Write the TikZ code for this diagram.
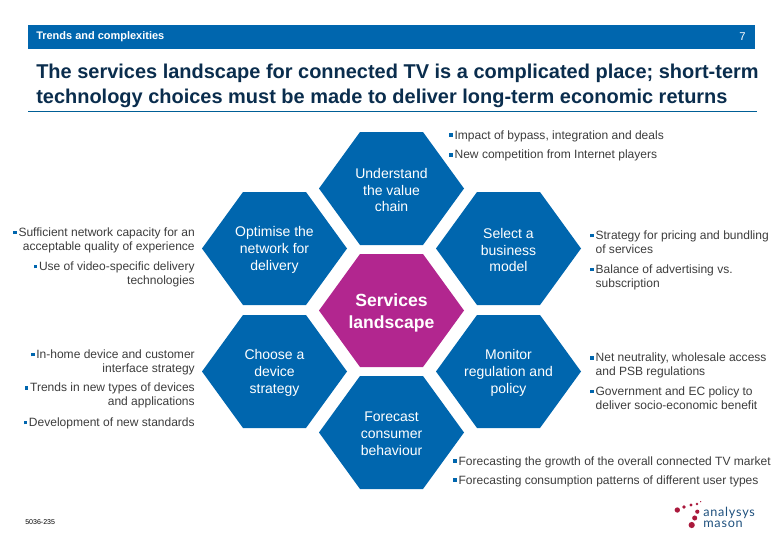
\documentclass[tikz,border=0pt]{standalone}
\usepackage{fontspec}
\setmainfont{Liberation Sans}
\setsansfont[LetterSpace=6]{Lato}
\usepackage{xcolor}
\usetikzlibrary{positioning}
\definecolor{BarBlue}{RGB}{0,102,174}
\definecolor{HexMagenta}{RGB}{178,38,143}
\definecolor{TitleNavy}{RGB}{10,45,77}
\definecolor{RuleTeal}{RGB}{0,95,150}
\definecolor{BodyGray}{RGB}{60,60,60}
\definecolor{LogoRed}{RGB}{170,25,60}
\definecolor{LogoBlue}{RGB}{30,80,125}
\newcommand{\bul}{\textcolor{BarBlue}{\rule[1.6pt]{2.6pt}{2.6pt}}\hspace{1.2pt}}
\newcommand{\hang}{\hspace*{3.8pt}}
\newcommand{\hexcell}[5]{
	\fill[#1] (#3-72.5,#4) -- ++(41,-56.5) -- ++(63,0) -- ++(41,56.5) -- ++(-41,56.5) -- ++(-63,0) -- cycle;
	\node[hexlabel] (#2) at (#3,#4+1.5) {#5};
}
\tikzset{
	hexlabel/.style={white, align=center, inner sep=0pt, font=\fontsize{9.95}{12}\selectfont},
	listright/.style={BodyGray, align=right, inner sep=0pt, font=\fontsize{8.55}{10.1}\selectfont},
	listleft/.style={BodyGray, align=left, inner sep=0pt, font=\fontsize{8.55}{10}\selectfont},
	logodot/.style={circle, fill=LogoRed, inner sep=0pt}
}
\begin{document}
\begin{tikzpicture}[x=0.025cm, y=-0.025cm]
	\useasboundingbox (0,0) rectangle (780,540);
	\fill[BarBlue] (28,25) rectangle (755,49);
	\node[white, anchor=west, inner sep=0pt, font=\fontsize{7.8}{9}\bfseries\selectfont] (section) at (36,37) {Trends and complexities};
	\node[white, anchor=east, inner sep=0pt, font=\fontsize{8}{9}\selectfont] (pageno) at (746,37) {7};
	\node[TitleNavy, anchor=north west, align=left, inner sep=0pt, font=\fontsize{14.2}{17.7}\bfseries\selectfont] (title) at (36,64) {The services landscape for connected TV is a complicated place; short-term\\technology choices must be made to deliver long-term economic returns};
	\draw[RuleTeal, line width=1.1pt] (28,111.5) -- (757,111.5);

	\hexcell{BarBlue}{understand}{391.5}{188.5}{Understand\\the value\\chain}
	\hexcell{BarBlue}{optimise}{274.5}{248.5}{Optimise the\\network for\\delivery}
	\hexcell{BarBlue}{select}{508.5}{248.5}{Select a\\business\\model}
	\hexcell{HexMagenta}{services}{391.5}{310.5}{}
	\node[white, align=center, inner sep=0pt, font=\fontsize{12.5}{15.6}\bfseries\selectfont] (serviceslabel) at (391.5,312.5) {Services\\landscape};
	\hexcell{BarBlue}{device}{274.5}{371.5}{Choose a\\device\\strategy}
	\hexcell{BarBlue}{regulation}{508.5}{371.5}{Monitor\\regulation and\\policy}
	\hexcell{BarBlue}{forecast}{391.5}{432.5}{Forecast\\consumer\\behaviour}

	\node[listleft, anchor=west] (valuelist) at (449,146) {\bul Impact of bypass, integration and deals\\[4pt]\bul New competition from Internet players};
	\node[listleft, anchor=west] (selectlist) at (590,260.5) {\bul Strategy for pricing and bundling\\\hang of services\\[4pt]\bul Balance of advertising vs.\\\hang subscription};
	\node[listleft, anchor=west] (regulationlist) at (590,381.5) {\bul Net neutrality, wholesale access\\\hang and PSB regulations\\[4pt]\bul Government and EC policy to\\\hang deliver socio-economic benefit};
	\node[listleft, anchor=west] (forecastlist) at (453,471.5) {\bul Forecasting the growth of the overall connected TV market\\[3.4pt]\bul Forecasting consumption patterns of different user types};
	\node[listright, anchor=east] (optimiselist) at (195,257.5) {\bul Sufficient network capacity for an\\acceptable quality of experience\\[4pt]\bul Use of video-specific delivery\\technologies};
	\node[listright, anchor=east] (devicelist) at (195,389.5) {\bul In-home device and customer\\interface strategy\\[3.4pt]\bul Trends in new types of devices\\and applications\\[4.6pt]\bul Development of new standards};

	\node[black, anchor=west, inner sep=0pt, font=\fontsize{5}{6}\selectfont] (docref) at (25,522) {5036-235};

	\node[logodot, minimum size=3.8pt] (dota) at (677.3,510) {};
	\node[logodot, minimum size=2.6pt] (dotb) at (684,507) {};
	\node[logodot, minimum size=2.4pt] (dotc) at (691,505) {};
	\node[logodot, minimum size=2pt] (dotd) at (697,504) {};
	\node[logodot, minimum size=1pt] (dote) at (700.7,501.7) {};
	\node[logodot, minimum size=3pt] (dotf) at (697.3,511.7) {};
	\node[logodot, minimum size=3.6pt] (dotg) at (694.7,518) {};
	\node[logodot, minimum size=4.4pt] (doth) at (691.7,525) {};
	\node[LogoBlue, anchor=west, align=left, inner sep=0pt, font=\sffamily\fontsize{9}{8}\selectfont] (logotext) at (703,517.5) {analysys\\mason};
\end{tikzpicture}
\end{document}
